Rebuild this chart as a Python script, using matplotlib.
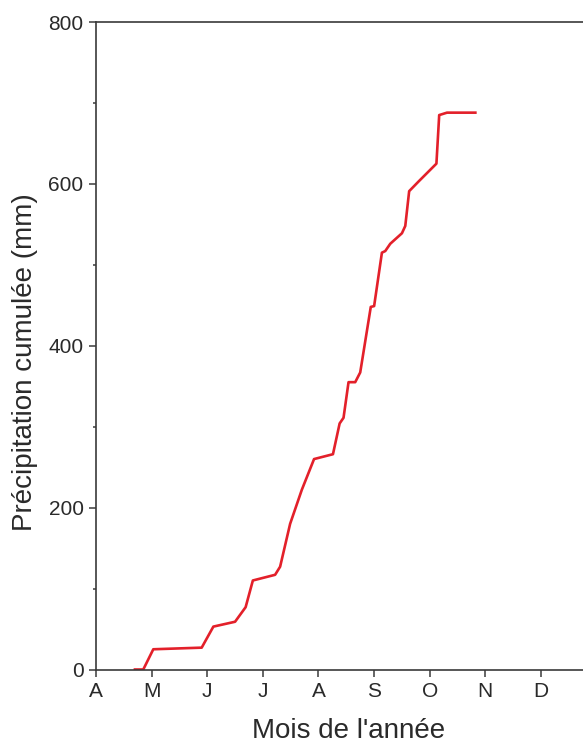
import matplotlib
matplotlib.use("Agg")
import matplotlib.pyplot as plt
from matplotlib.ticker import MultipleLocator

plt.rcParams['font.family'] = ['Liberation Sans', 'DejaVu Sans']

# Time in months since 1 April, cumulative precipitation (mm)
months = [0.70, 0.85, 1.03, 1.90, 2.11, 2.50, 2.69, 2.82, 3.22, 3.31, 3.49,
          3.70, 3.92, 4.26, 4.38, 4.45, 4.54, 4.66, 4.75, 4.94, 5.00, 5.14,
          5.20, 5.29, 5.50, 5.56, 5.63, 5.80, 6.12, 6.17, 6.31, 6.82]
precip = [0, 0, 25, 27, 53, 59, 77, 110, 117, 127, 180,
          222, 260, 266, 304, 311, 355, 355, 367, 448, 449, 515,
          517, 526, 539, 548, 591, 603, 625, 685, 688, 688]

month_labels = ['A', 'M', 'J', 'J', 'A', 'S', 'O', 'N', 'D']

W, H = 583, 744
fig = plt.figure(figsize=(W / 100, H / 100), dpi=100)
ax = fig.add_axes([96 / W, 1 - 669.5 / H, 1 - 96 / W + 0.01, (669.5 - 22) / H])

ax.plot(months, precip, color='#e3202a', lw=1.9, solid_joinstyle='round')

ax.set_xlim(0, 8.86)
ax.set_ylim(0, 800)
ax.set_xticks(range(len(month_labels)))
ax.set_xticklabels(month_labels)
ax.set_yticks([0, 200, 400, 600, 800])
ax.yaxis.set_minor_locator(MultipleLocator(100))

for s in ['left', 'bottom', 'top']:
    ax.spines[s].set_color('#3a3a3a')
    ax.spines[s].set_linewidth(1.2)
ax.spines['right'].set_visible(False)

ax.tick_params(axis='both', which='major', direction='out', length=5, width=1.1,
               color='#3a3a3a', labelsize=15, labelcolor='#2a2a2a', pad=4)
ax.tick_params(axis='y', which='minor', direction='out', length=2.5, width=1.1,
               color='#3a3a3a')
ax.tick_params(axis='x', which='major', pad=4)

ax.set_xlabel("Mois de l'année", fontsize=20, color='#2a2a2a')
ax.set_ylabel("Précipitation cumulée (mm)", fontsize=20, color='#2a2a2a')
ax.xaxis.set_label_coords(0.513, -0.075)
ax.yaxis.set_label_coords(-0.118, 0.474)

fig.savefig('out.png', dpi=100)
